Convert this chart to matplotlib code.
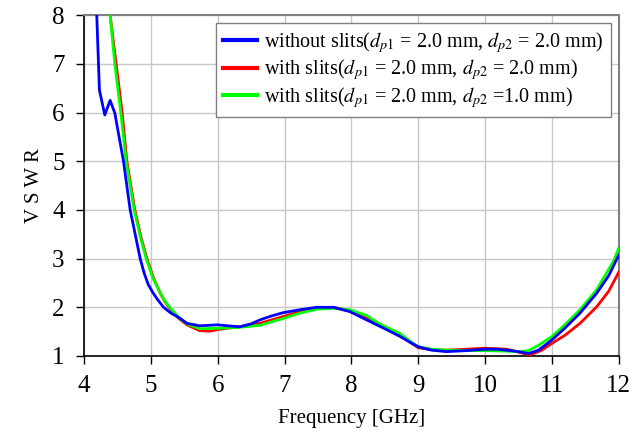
import matplotlib
matplotlib.use("Agg")
import matplotlib.pyplot as plt

plt.rcParams['font.family'] = ['Liberation Serif', 'DejaVu Serif']
plt.rcParams['mathtext.fontset'] = 'stix'

# without slits (dp1 = 2.0 mm, dp2 = 2.0 mm)
f_blue = [4.19, 4.23, 4.31, 4.39, 4.46, 4.59, 4.69, 4.78, 4.84, 4.9, 4.96, 5.03, 5.1, 5.19,
          5.3, 5.43, 5.54, 5.73, 6.0, 6.15, 6.33, 6.5, 6.63, 6.8, 6.98, 7.23, 7.48, 7.73,
          7.98, 8.23, 8.5, 8.73, 8.88, 9.0, 9.2, 9.42, 9.72, 10.0, 10.18, 10.32, 10.5,
          10.65, 10.8, 11.0, 11.2, 11.42, 11.67, 11.85, 12.0]
v_blue = [8.0, 6.46, 5.95, 6.25, 5.99, 5.0, 4.0, 3.4, 3.0, 2.7, 2.47, 2.3, 2.16, 2.0,
          1.88, 1.78, 1.67, 1.62, 1.64, 1.62, 1.6, 1.66, 1.74, 1.82, 1.89, 1.95, 2.0, 2.0,
          1.91, 1.74, 1.56, 1.40, 1.28, 1.19, 1.12, 1.09, 1.11, 1.14, 1.14, 1.12, 1.09,
          1.05, 1.12, 1.33, 1.58, 1.88, 2.29, 2.65, 3.07]

# with slits (dp1 = 2.0 mm, dp2 = 2.0 mm)
f_red = [4.39, 4.48, 4.57, 4.64, 4.76, 4.85, 4.94, 5.04, 5.14, 5.2, 5.27, 5.41, 5.54, 5.73,
         5.88, 6.03, 6.33, 6.63, 6.98, 7.23, 7.48, 7.73, 7.98, 8.23, 8.5, 8.73, 8.88, 9.0,
         9.2, 9.42, 9.72, 10.0, 10.32, 10.5, 10.67, 10.85, 11.0, 11.2, 11.42, 11.67,
         11.85, 12.0]
v_red = [8.0, 7.0, 6.0, 5.0, 4.0, 3.45, 3.0, 2.6, 2.29, 2.14, 2.0, 1.78, 1.64, 1.52,
         1.51, 1.55, 1.6, 1.67, 1.81, 1.91, 1.98, 2.0, 1.93, 1.78, 1.6, 1.44, 1.28, 1.17,
         1.13, 1.12, 1.14, 1.16, 1.14, 1.08, 1.02, 1.12, 1.26, 1.43, 1.67, 2.01,
         2.33, 2.72]

# with slits (dp1 = 2.0 mm, dp2 = 1.0 mm)
f_green = [4.39, 4.46, 4.55, 4.63, 4.75, 4.84, 4.93, 5.03, 5.14, 5.2, 5.27, 5.41, 5.54, 5.73,
           6.03, 6.33, 6.63, 6.98, 7.23, 7.48, 7.73, 7.98, 8.23, 8.42, 8.73, 8.88, 9.0,
           9.2, 9.42, 10.0, 10.3, 10.5, 10.65, 10.8, 11.0, 11.2, 11.42, 11.67, 11.93, 12.0]
v_green = [8.0, 7.0, 6.0, 5.0, 4.0, 3.45, 3.0, 2.6, 2.3, 2.15, 2.02, 1.8, 1.66, 1.56,
           1.57, 1.59, 1.63, 1.77, 1.88, 1.96, 1.98, 1.95, 1.83, 1.66, 1.46, 1.3, 1.19,
           1.14, 1.12, 1.11, 1.10, 1.09, 1.11, 1.22, 1.40, 1.65, 1.95, 2.36, 2.97, 3.22]

labels = [r'without slits($d_{p1}$ = 2.0 mm, $d_{p2}$ = 2.0 mm)',
          r'with slits($d_{p1}$ = 2.0 mm, $d_{p2}$ = 2.0 mm)',
          r'with slits($d_{p1}$ = 2.0 mm, $d_{p2}$ =1.0 mm)']

fig = plt.figure(figsize=(6.32, 4.45), dpi=100)
ax = fig.add_axes([0.133, 0.2, 0.846, 0.766])

lb, = ax.plot(f_blue, v_blue, color='#0000ff', lw=2, zorder=5)
lr, = ax.plot(f_red, v_red, color='#ff0000', lw=2, zorder=3)
lg, = ax.plot(f_green, v_green, color='#00ff00', lw=2, zorder=4)

ax.set_xlim(4, 12)
ax.set_ylim(1, 8)
ax.set_xticks(range(4, 13))
ax.set_yticks(range(1, 9))
ax.grid(True, color='#c8c8c8', lw=1)
ax.tick_params(direction='out', length=6, width=1, labelsize=18, pad=8)

for s in ['left', 'bottom']:
    ax.spines[s].set_color('black')
    ax.spines[s].set_linewidth(1.2)
for s in ['top', 'right']:
    ax.spines[s].set_color('#808080')
    ax.spines[s].set_linewidth(1.5)

ax.set_xlabel('Frequency [GHz]', fontsize=15, labelpad=8)
ax.set_ylabel('V S W R', fontsize=15, labelpad=6)

leg = ax.legend([lb, lr, lg], labels, loc='upper right', fontsize=14.5,
                frameon=True, fancybox=False, edgecolor='#808080', framealpha=1,
                handlelength=1.7, handletextpad=0.35, labelspacing=0.12,
                borderpad=0.35, borderaxespad=0.4)
leg.get_frame().set_linewidth(1)
for h in leg.legend_handles:
    h.set_linewidth(3)

fig.savefig('out.png', dpi=100)
